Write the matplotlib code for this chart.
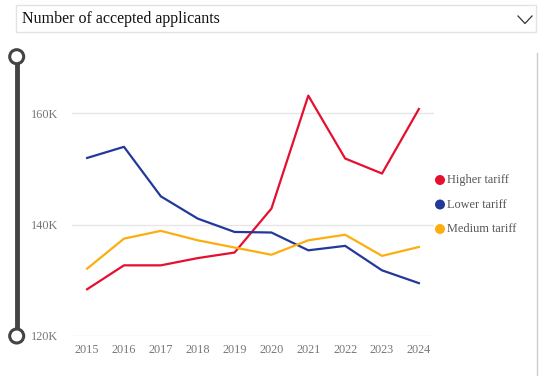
import matplotlib
matplotlib.use("Agg")
import matplotlib.pyplot as plt
from matplotlib.patches import Circle, Rectangle
from matplotlib.ticker import FuncFormatter

plt.rcParams["font.family"] = ["Liberation Serif", "DejaVu Serif"]

years = [2015, 2016, 2017, 2018, 2019, 2020, 2021, 2022, 2023, 2024]
higher_tariff = [128.4, 132.7, 132.7, 134.0, 135.0, 142.9, 163.2, 151.9, 149.2, 160.8]
lower_tariff = [152.0, 154.0, 145.1, 141.1, 138.7, 138.6, 135.4, 136.2, 131.8, 129.5]
medium_tariff = [132.1, 137.5, 138.9, 137.2, 135.9, 134.6, 137.2, 138.2, 134.4, 136.0]

series_names = ["Higher tariff", "Lower tariff", "Medium tariff"]
series_values = [higher_tariff, lower_tariff, medium_tariff]
series_colors = ["#E5102F", "#22399A", "#FDAE0F"]

W, H = 540, 376
fig = plt.figure(figsize=(W / 100, H / 100), dpi=100)

# main plot area, in pixel coords
left, right, top, bottom = 72, 434, 57.8, 336
ax = fig.add_axes([left / W, 1 - bottom / H, (right - left) / W, (bottom - top) / H])

for name, vals, col in zip(series_names, series_values, series_colors):
    ax.plot(years, vals, color=col, lw=1.6, label=name)

ax.set_xlim(2014.59, 2024.41)
ax.set_ylim(120, 170)
ax.set_xticks(years)
ax.set_yticks([120, 140, 160])
ax.yaxis.set_major_formatter(FuncFormatter(lambda v, _: f"{int(v)}K"))
ax.grid(axis="y", color="#e6e6e6", lw=1)
ax.set_axisbelow(True)
for s in ax.spines.values():
    s.set_visible(False)
ax.tick_params(length=0, labelsize=8.8, labelcolor="#777777")
ax.tick_params(axis="y", pad=10)
ax.tick_params(axis="x", pad=6)

# overlay for the slicer widgets and legend
ov = fig.add_axes([0, 0, 1, 1], zorder=-1)
ov.set_xlim(0, W)
ov.set_ylim(H, 0)
ov.axis("off")

# dropdown header
ov.add_patch(Rectangle((16, 5), 520, 27, fill=False, ec="#e3e3e3", lw=1))
ov.text(22, 19, "Number of accepted applicants", fontsize=11.5, color="#111111",
        va="center", ha="left")
ov.plot([518, 525, 532], [16, 23.5, 16], color="#333333", lw=0.9)

# slider
ov.plot([16.7, 16.7], [56.7, 336], color="#444444", lw=3.5, solid_capstyle="butt")
for cy in (56.7, 336):
    ov.add_patch(Circle((16.7, cy), 7, fc="white", ec="#444444", lw=2.2, zorder=3))

# right border
ov.plot([536.7, 536.7], [53, H], color="#cccccc", lw=1)

# legend
for i, (name, col) in enumerate(zip(series_names, series_colors)):
    ly = 180 + i * 24.5
    ov.add_patch(Circle((440, ly), 5, fc=col, ec="none"))
    ov.text(447, ly, name, fontsize=8.8, color="#555555", va="center", ha="left")

fig.savefig("out.png", dpi=100)
